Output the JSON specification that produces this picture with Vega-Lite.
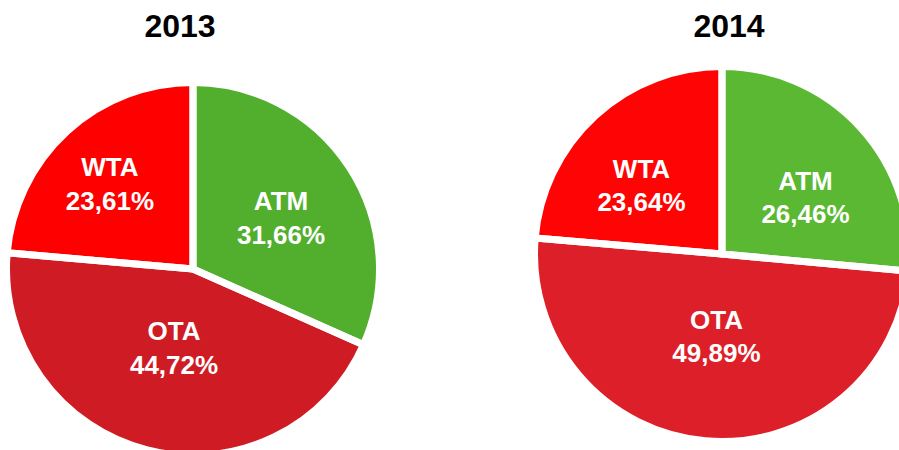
{
  "$schema": "https://vega.github.io/schema/vega-lite/v6.json",
  "padding": {"left": 0, "right": 0, "top": 11, "bottom": 0},
  "background": "white",
  "config": {
    "view": {"stroke": null},
    "locale": {"number": {"decimal": ",", "thousands": ".", "grouping": [3], "currency": ["", " €"]}}
  },
  "data": {"values": [
    {"year": 2013, "segment": "ATM", "share": 0.3166},
    {"year": 2013, "segment": "OTA", "share": 0.4472},
    {"year": 2013, "segment": "WTA", "share": 0.2361},
    {"year": 2014, "segment": "ATM", "share": 0.2646},
    {"year": 2014, "segment": "OTA", "share": 0.4989},
    {"year": 2014, "segment": "WTA", "share": 0.2364}
  ]},
  "spacing": 145,
  "resolve": {"scale": {"color": "independent", "theta": "independent", "radius": "independent"}},
  "hconcat": [
    {
      "width": 386,
      "height": 412,
      "title": {"text": "2013", "font": "Liberation Sans", "fontSize": 32, "fontWeight": "bold", "color": "#000000", "offset": -6, "baseline": "alphabetic", "anchor": "middle", "dx": -13},
      "transform": [{"filter": "datum.year == 2013"}],
      "encoding": {
        "theta": {"field": "share", "type": "quantitative", "stack": true},
        "order": {"field": "segment", "type": "ordinal", "sort": "ascending"}
      },
      "layer": [
        {
          "mark": {"type": "arc", "outerRadius": 186.5},
          "encoding": {"color": {"field": "segment", "type": "nominal", "legend": null,
            "scale": {"domain": ["ATM", "OTA", "WTA"], "range": ["#52AE2D", "#CF1B24", "#FF0000"]}}}
        },
        {
          "mark": {"type": "arc", "outerRadius": 186.5, "filled": false, "stroke": "#FFFFFF", "strokeWidth": 7, "strokeJoin": "round"}
        },
        {
          "mark": {"type": "text", "dy": -10, "font": "Liberation Sans", "fontSize": 26, "fontWeight": "bold", "fill": "#FFFFFF"},
          "encoding": {
            "radius": {"field": "share", "type": "quantitative", "scale": {"type": "linear", "domain": [0.2, 0.5], "range": [131, 64], "zero": false}},
            "text": {"field": "segment", "type": "nominal"}
          }
        },
        {
          "mark": {"type": "text", "dy": 24, "font": "Liberation Sans", "fontSize": 26, "fontWeight": "bold", "fill": "#FFFFFF"},
          "encoding": {
            "radius": {"field": "share", "type": "quantitative", "scale": {"type": "linear", "domain": [0.2, 0.5], "range": [131, 64], "zero": false}},
            "text": {"field": "share", "type": "quantitative", "format": ".2%"}
          }
        }
      ]
    },
    {
      "width": 382,
      "height": 382,
      "title": {"text": "2014", "font": "Liberation Sans", "fontSize": 32, "fontWeight": "bold", "color": "#000000", "offset": -6, "baseline": "alphabetic", "anchor": "middle", "dx": 7},
      "transform": [{"filter": "datum.year == 2014"}],
      "encoding": {
        "theta": {"field": "share", "type": "quantitative", "stack": true},
        "order": {"field": "segment", "type": "ordinal", "sort": "ascending"}
      },
      "layer": [
        {
          "mark": {"type": "arc", "outerRadius": 187.5},
          "encoding": {"color": {"field": "segment", "type": "nominal", "legend": null,
            "scale": {"domain": ["ATM", "OTA", "WTA"], "range": ["#5BB833", "#DD1F29", "#FF0404"]}}}
        },
        {
          "mark": {"type": "arc", "outerRadius": 187.5, "filled": false, "stroke": "#FFFFFF", "strokeWidth": 7, "strokeJoin": "round"}
        },
        {
          "mark": {"type": "text", "dy": 4, "font": "Liberation Sans", "fontSize": 26, "fontWeight": "bold", "fill": "#FFFFFF"},
          "encoding": {
            "radius": {"field": "share", "type": "quantitative", "scale": {"type": "linear", "domain": [0.2, 0.5], "range": [126.8, 62.8], "zero": false}},
            "text": {"field": "segment", "type": "nominal"}
          }
        },
        {
          "mark": {"type": "text", "dy": 37, "font": "Liberation Sans", "fontSize": 26, "fontWeight": "bold", "fill": "#FFFFFF"},
          "encoding": {
            "radius": {"field": "share", "type": "quantitative", "scale": {"type": "linear", "domain": [0.2, 0.5], "range": [126.8, 62.8], "zero": false}},
            "text": {"field": "share", "type": "quantitative", "format": ".2%"}
          }
        }
      ]
    }
  ]
}
